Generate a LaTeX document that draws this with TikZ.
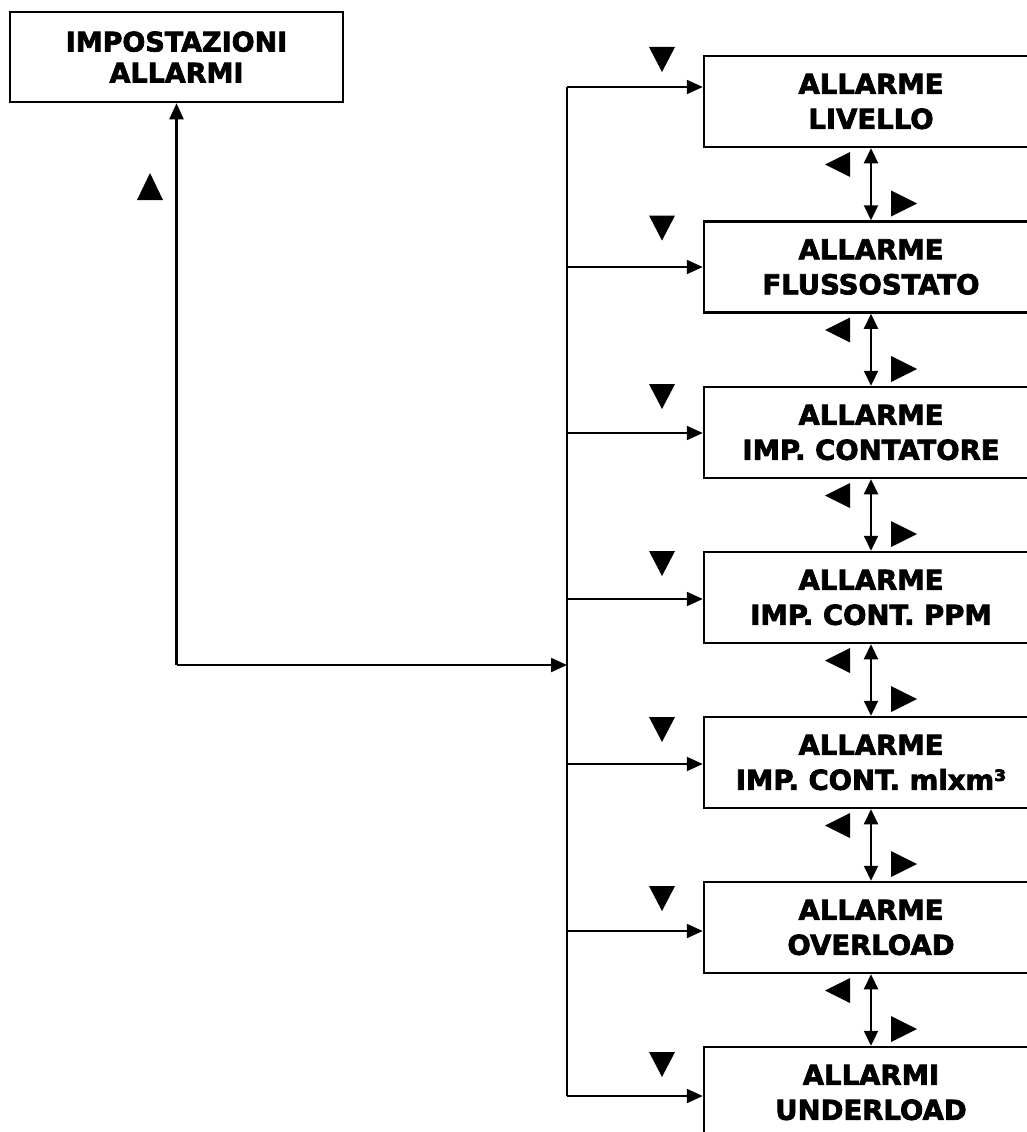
\documentclass[tikz,border=0pt]{standalone}
\usepackage{fontspec}
\setmainfont{DejaVu Sans}[BoldFeatures={FakeBold=2.6}]
\usetikzlibrary{arrows.meta}
\begin{document}
\begin{tikzpicture}[x=1pt,y=-1pt,
  line width=2.2pt,
  arr/.style={-{Triangle[length=16pt,width=14pt]}},
  darr/.style={{Triangle[length=15pt,width=14pt]}-{Triangle[length=15pt,width=14pt]}},
  menubox/.style={draw,line width=2.5pt,rectangle,minimum width=334pt,minimum height=91pt,
    align=center,inner sep=0pt,font=\bfseries\fontsize{27.5}{35}\selectfont},
  topbox/.style={draw,line width=2.5pt,rectangle,minimum width=333pt,minimum height=90pt,
    align=center,inner sep=0pt,font=\bfseries\fontsize{27}{31}\selectfont}]
\useasboundingbox (0,0) rectangle (1027,1132);
\clip (0,0) rectangle (1027,1132);
\fill[white] (0,0) rectangle (1027,1132);

\node[topbox] (top) at (176.5,57) {IMPOSTAZIONI\\ALLARMI};

\node[menubox] (b1) at (871,101.5) {ALLARME\\LIVELLO};
\node[menubox] (b2) at (871,267) {ALLARME\\FLUSSOSTATO};
\node[menubox] (b3) at (871,432.5) {ALLARME\\IMP. CONTATORE};
\node[menubox] (b4) at (871,597.5) {ALLARME\\IMP. CONT. PPM};
\node[menubox] (b5) at (871,762.5) {ALLARME\\IMP. CONT. mlxm³};
\node[menubox] (b6) at (871,927.5) {ALLARME\\OVERLOAD};
\node[menubox] (b7) at (871,1092.5) {ALLARMI\\UNDERLOAD};

% bus junctions
\coordinate (j1) at (567,87);
\coordinate (j2) at (567,267);
\coordinate (j3) at (567,433);
\coordinate (j4) at (567,599);
\coordinate (j5) at (567,764);
\coordinate (j6) at (567,931);
\coordinate (j7) at (567,1096);
\coordinate (corner) at (176.5,665);
\coordinate (jm) at (567,665);

\draw (j1) -- (j7);
\foreach \i in {1,...,7}{
  \draw[arr] (j\i) -- (j\i -| b\i.west);
}
\draw[arr] (corner) -- (top.south);
\draw[arr] (corner) -- (jm);

\foreach \a/\b in {1/2,2/3,3/4,4/5,5/6,6/7}{
  \draw[darr] (b\a.south) -- (b\b.north);
}

% key markers
\fill (137,200) -- (163,200) -- (150,173) -- cycle;
\foreach \t in {47,215.5,384,551,717,886,1052}{
  \fill (649,\t) -- (675,\t) -- (662,\t+25) -- cycle;
}
\foreach \bb/\nt in {147/221.5,312.5/387,478/552,643/717,808/882,973/1047}{
  \fill (850,\bb+5) -- (850,\bb+30) -- (825,\bb+17.5) -- cycle;
  \fill (891,\nt-31) -- (891,\nt-5) -- (917,\nt-18) -- cycle;
}
\end{tikzpicture}
\end{document}
